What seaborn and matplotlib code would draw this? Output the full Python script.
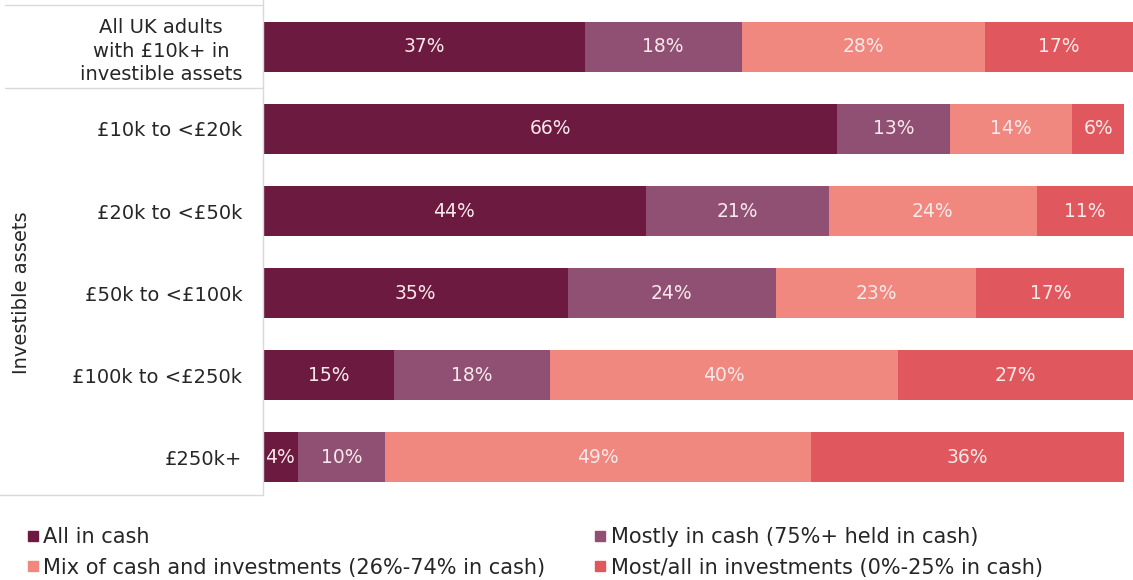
import numpy as np
import pandas as pd
import matplotlib
matplotlib.use("Agg")
import matplotlib.pyplot as plt
from matplotlib.lines import Line2D
import seaborn as sns

# Share of investible assets held in cash, by asset band (%)
categories = [
    "All UK adults\nwith £10k+ in\ninvestible assets",
    "£10k to <£20k",
    "£20k to <£50k",
    "£50k to <£100k",
    "£100k to <£250k",
    "£250k+",
]
all_in_cash = [37, 66, 44, 35, 15, 4]
mostly_cash = [18, 13, 21, 24, 18, 10]
mix = [28, 14, 24, 23, 40, 49]
mostly_invest = [17, 6, 11, 17, 27, 36]

series_names = [
    "All in cash",
    "Mostly in cash (75%+ held in cash)",
    "Mix of cash and investments (26%-74% in cash)",
    "Most/all in investments (0%-25% in cash)",
]
colors = ["#6D1A40", "#8F5073", "#F08880", "#E0585E"]

sns.set_theme(style="white")
plt.rcParams["font.family"] = ["DejaVu Sans"]

fig = plt.figure(figsize=(11.33, 5.8), dpi=100)
ax = fig.add_axes([263 / 1133, 1 - 495 / 580, 1 - 263 / 1133, 495 / 580])

values = np.array([all_in_cash, mostly_cash, mix, mostly_invest], dtype=float).T
cum = np.cumsum(values, axis=1)

# stacked bars: draw cumulative totals from longest to shortest
for j in reversed(range(len(series_names))):
    df = pd.DataFrame({"cat": categories, "val": cum[:, j]})
    sns.barplot(data=df, x="val", y="cat", color=colors[j], orient="h",
                width=0.61, saturation=1, ax=ax, edgecolor="none")

# segment value labels
label_color = "#F7E9EA"
for i in range(len(categories)):
    for j in range(len(series_names)):
        start = cum[i, j] - values[i, j]
        ax.text(start + values[i, j] / 2, i, f"{int(values[i, j])}%",
                ha="center", va="center", color=label_color, fontsize=13.5)

ax.set_xlim(0, 100)
ax.set_ylim(5.463, -0.573)
ax.set_xlabel("")
ax.set_ylabel("")
ax.set_xticks([])
for s in ["top", "right", "bottom"]:
    ax.spines[s].set_visible(False)
ax.spines["left"].set_color("#D9D9D9")
ax.spines["left"].set_linewidth(1)

ax.tick_params(axis="y", length=0, pad=15, labelsize=14, labelcolor="#262626")
for t in ax.get_yticklabels():
    t.set_multialignment("center")
    t.set_linespacing(1.3)

# left-hand category table rules
for yy in [5, 88, 495]:
    x0 = 5 if yy != 495 else 0
    fig.add_artist(Line2D([x0 / 1133, 263 / 1133], [1 - yy / 580, 1 - yy / 580],
                          color="#D9D9D9", lw=1))

fig.text(22 / 1133, 1 - 293 / 580, "Investible assets", rotation=90,
         ha="center", va="center", fontsize=14, color="#262626")

# legend
handles = [Line2D([], [], marker="s", linestyle="none", markersize=7,
                  markerfacecolor=c, markeredgecolor=c) for c in colors]
order = [0, 2, 1, 3]
fig.legend([handles[k] for k in order], [series_names[k] for k in order],
           ncol=2, loc="lower left", bbox_to_anchor=(18 / 1133, -7 / 580),
           frameon=False, fontsize=15, handlelength=0.5, handletextpad=0.25,
           columnspacing=2.4, labelspacing=0.5, borderaxespad=0.05,
           labelcolor="#262626")

fig.savefig("out.png", dpi=100)
